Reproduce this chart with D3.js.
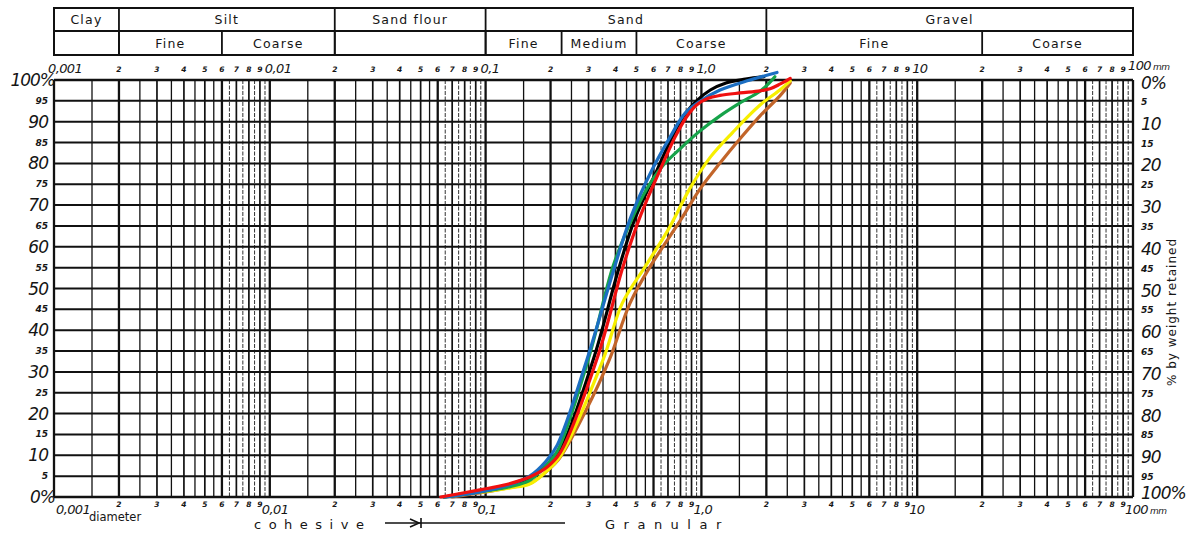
<!DOCTYPE html>
<html>
<head>
<meta charset="utf-8">
<script src="https://cdnjs.cloudflare.com/ajax/libs/d3/7.8.5/d3.min.js"></script>
<style>
body { margin: 0; background: #fff; }
svg { display: block; }
text { font-family: 'DejaVu Sans', sans-serif; fill: #151515; }
</style>
</head>
<body>
<svg id="svg"></svg>
<script>
// soil classes (header table), boundaries in mm
var mainClasses = ['Clay', 'Silt', 'Sand flour', 'Sand', 'Gravel'];
var mainBounds = [0.001, 0.002, 0.02, 0.1, 2, 100];
var subClasses = ['', 'Fine', 'Coarse', '', 'Fine', 'Medium', 'Coarse', 'Fine', 'Coarse'];
var subBounds = [0.001, 0.002, 0.006, 0.02, 0.1, 0.225, 0.5, 2, 20, 100];

// axis labels
var decadeValues = [0.001, 0.01, 0.1, 1, 10, 100];
var decadeTop = ['0,001', '0,01', '0,1', '1,0', '10', '100'];
var decadeBottom = ['0,001', '0,01', '0,1', '1,0', '10', '100'];
var minorDigits = [2, 3, 4, 5, 6, 7, 8, 9];
var gridSteps = [1, 1.5, 2, 2.5, 3, 3.5, 4, 4.5, 5, 5.5, 6, 6.5, 7, 7.5, 8, 8.5, 9, 9.5];
var heavySteps = [1, 2, 6];
var pctLines = [0, 5, 10, 15, 20, 25, 30, 35, 40, 45, 50, 55, 60, 65, 70, 75, 80, 85, 90, 95, 100];
var leftLabels = ['0%', '5', '10', '15', '20', '25', '30', '35', '40', '45', '50', '55', '60', '65', '70', '75', '80', '85', '90', '95', '100%'];
var rightLabels = ['100%', '95', '90', '85', '80', '75', '70', '65', '60', '55', '50', '45', '40', '35', '30', '25', '20', '15', '10', '5', '0%'];

// sieve curves: [diameter mm, % passing]
var brownCurve = [[0.07, 0], [0.1, 1.2], [0.13, 2.3], [0.16, 3.2], [0.19, 6], [0.22, 9.3], [0.29, 20.5], [0.375, 33], [0.467, 46.5], [0.578, 55.2], [0.796, 66.2], [0.986, 73.9], [1.22, 80.1], [1.51, 85.9], [1.87, 91.4], [2.31, 96.2], [2.58, 99.3]];
var yellowCurve = [[0.076, 0.8], [0.1, 1.3], [0.13, 2.2], [0.16, 3.1], [0.19, 6], [0.22, 9.5], [0.35, 32.9], [0.43, 46.5], [0.548, 55.2], [0.7, 64], [0.885, 74], [1.1, 81.5], [1.4, 87.5], [1.87, 94], [2.31, 97.6], [2.58, 99.8]];
var blackCurve = [[0.064, 0], [0.094, 1.3], [0.13, 2.7], [0.16, 4.2], [0.19, 7.5], [0.22, 11], [0.318, 33.5], [0.41, 54], [0.49, 66.5], [0.623, 78.4], [0.731, 86.3], [0.839, 91.8], [0.95, 95], [1.1, 97.6], [1.3, 99.3], [1.6, 100.2], [1.95, 100.8]];
var greenCurve = [[0.065, 0], [0.094, 1.2], [0.13, 2.5], [0.16, 4], [0.19, 7.5], [0.215, 11], [0.301, 33.5], [0.389, 55.2], [0.47, 66], [0.56, 74], [0.664, 79.5], [0.796, 83.5], [0.986, 87.8], [1.22, 91.4], [1.51, 94.5], [1.87, 97.3], [2.08, 99.5], [2.19, 100.8]];
var blueCurve = [[0.065, 0], [0.094, 1.2], [0.13, 3], [0.16, 5], [0.19, 8.5], [0.215, 12.5], [0.295, 33], [0.39, 54], [0.47, 67], [0.59, 78.4], [0.716, 86.3], [0.839, 92], [0.986, 94.9], [1.22, 97.6], [1.63, 99.8], [2.24, 101.8]];
var redCurve = [[0.062, 0], [0.094, 1.7], [0.125, 3], [0.16, 4.8], [0.193, 7.2], [0.221, 10.5], [0.33, 33.5], [0.433, 55.2], [0.519, 67.1], [0.643, 78.4], [0.755, 86.3], [0.85, 91], [0.95, 94], [1.074, 95.6], [1.22, 96.3], [1.51, 96.9], [1.87, 97.4], [2.08, 97.9], [2.31, 99], [2.58, 100.4]];

var curves = [
    { pts: brownCurve, color: '#c2652a' },
    { pts: yellowCurve, color: '#f7ef00' },
    { pts: blackCurve, color: '#000000' },
    { pts: greenCurve, color: '#16a34a' },
    { pts: blueCurve, color: '#1b6ec2' },
    { pts: redCurve, color: '#f01010' }
];

var GrainChart = {

    width: 1187,

    height: 534,

    svg: null,

    x: null,

    y: null,

    init: function() {
        this.svg = d3.select('#svg')
            .attr('width', this.width)
            .attr('height', this.height);
        this.x = d3.scaleLog().domain([0.001, 100]).range([54, 1133]);
        this.y = d3.scaleLinear().domain([0, 100]).range([497, 80]);
        this.buildTable();
        this.buildGrid();
        this.buildLabels();
        this.buildCurves();
        this.buildFooter();
    },

    buildTable: function() {
        var x = this.x, g = this.svg.append('g').attr('class', 'table'),
            top = 8, mid = 31, bot = 55;
        g.append('rect')
            .attr('x', x(0.001)).attr('y', top)
            .attr('width', x(100) - x(0.001)).attr('height', bot - top)
            .attr('fill', 'none').attr('stroke', '#111').attr('stroke-width', 2);
        g.append('line')
            .attr('x1', x(0.001)).attr('x2', x(100)).attr('y1', mid).attr('y2', mid)
            .attr('stroke', '#111').attr('stroke-width', 1.8);
        mainBounds.slice(1, -1).forEach(function(b) {
            g.append('line').attr('x1', x(b)).attr('x2', x(b)).attr('y1', top).attr('y2', bot)
                .attr('stroke', '#111').attr('stroke-width', 1.8);
        });
        subBounds.slice(1, -1).forEach(function(b) {
            g.append('line').attr('x1', x(b)).attr('x2', x(b)).attr('y1', mid).attr('y2', bot)
                .attr('stroke', '#111').attr('stroke-width', 1.8);
        });
        mainClasses.forEach(function(c, i) {
            g.append('text')
                .attr('x', (x(mainBounds[i]) + x(mainBounds[i + 1])) / 2)
                .attr('y', 24)
                .attr('text-anchor', 'middle')
                .attr('font-size', 12.5)
                .attr('letter-spacing', 1.2)
                .text(c);
        });
        subClasses.forEach(function(c, i) {
            if (!c) return;
            g.append('text')
                .attr('x', (x(subBounds[i]) + x(subBounds[i + 1])) / 2)
                .attr('y', 48)
                .attr('text-anchor', 'middle')
                .attr('font-size', 12.5)
                .attr('letter-spacing', 1.2)
                .text(c);
        });
    },

    buildGrid: function() {
        var x = this.x, y = this.y, g = this.svg.append('g').attr('class', 'grid');
        // vertical lines per decade
        for (var k = 0; k < 5; k++) {
            var base = decadeValues[k];
            gridSteps.forEach(function(m) {
                var heavy = heavySteps.indexOf(m) > -1,
                    half = m % 1 !== 0,
                    xx = x(base * m);
                g.append('line')
                    .attr('x1', xx).attr('x2', xx)
                    .attr('y1', y(100)).attr('y2', y(0))
                    .attr('stroke', half && m > 6 ? '#333' : '#111')
                    .attr('stroke-width', heavy ? 2.3 : (half ? (m > 6 ? 1 : 1.3) : 1.7))
                    .attr('stroke-dasharray', half && m > 6 ? '4,1.5' : null);
            });
        }
        g.append('line')
            .attr('x1', x(100)).attr('x2', x(100))
            .attr('y1', y(100)).attr('y2', y(0))
            .attr('stroke', '#111').attr('stroke-width', 2.3);
        pctLines.forEach(function(p) {
            g.append('line')
                .attr('x1', x(0.001)).attr('x2', x(100))
                .attr('y1', y(p)).attr('y2', y(p))
                .attr('stroke', '#111')
                .attr('stroke-width', (p === 0 || p === 100) ? 2.3 : 2);
        });
    },

    buildLabels: function() {
        var x = this.x, y = this.y, svg = this.svg, g = svg.append('g').attr('class', 'labels');
        // percent, left and right
        pctLines.forEach(function(p, i) {
            var small = p % 10 === 5,
                edge = (p === 0 || p === 100);
            g.append('text')
                .attr('x', edge ? 55 : 48)
                .attr('y', y(p) + (small ? 3 : 6))
                .attr('text-anchor', 'end')
                .attr('font-style', 'italic')
                .attr('font-size', small ? 9 : 17)
                .attr('font-weight', small ? 'bold' : 'normal')
                .attr('letter-spacing', small ? 0 : -1)
                .text(leftLabels[i]);
            var ry = y(p) + (small ? 4 : 8);
            if (p === 100) ry = y(p) + 9;
            if (p === 0) ry = y(p) + 2;
            g.append('text')
                .attr('x', 1141)
                .attr('y', ry)
                .attr('font-style', 'italic')
                .attr('font-size', small ? 9 : 17)
                .attr('font-weight', small ? 'bold' : 'normal')
                .attr('letter-spacing', small ? 0 : -1)
                .text(rightLabels[i]);
        });
        g.append('text')
            .attr('transform', 'translate(1176,312) rotate(-90)')
            .attr('text-anchor', 'middle')
            .attr('font-size', 12)
            .attr('letter-spacing', 1)
            .text('% by weight retained');
        // decade labels, top and bottom
        decadeValues.forEach(function(d, i) {
            var last = i === decadeValues.length - 1;
            var t = g.append('text')
                .attr('x', x(d) - (i === 0 ? 6 : 5))
                .attr('y', last ? 70 : 73)
                .attr('font-style', 'italic')
                .attr('font-size', 13)
                .attr('letter-spacing', -0.6)
                .text(decadeTop[i]);
            if (last) t.append('tspan').attr('font-size', 9).attr('dx', 2).text('mm');
            var b = g.append('text')
                .attr('x', x(d) - (i === 0 ? -2 : 8))
                .attr('y', 514)
                .attr('font-style', 'italic')
                .attr('font-size', 13)
                .attr('letter-spacing', -0.6)
                .text(decadeBottom[i]);
            if (last) b.append('tspan').attr('font-size', 9).attr('dx', 2).text('mm');
        });
        g.append('text')
            .attr('x', 89).attr('y', 521)
            .attr('font-size', 11.5)
            .text('diameter');
        // small digits between decades
        for (var k = 0; k < 5; k++) {
            minorDigits.forEach(function(m) {
                [72, 507].forEach(function(yy) {
                    g.append('text')
                        .attr('x', x(decadeValues[k] * m))
                        .attr('y', yy)
                        .attr('text-anchor', 'middle')
                        .attr('font-style', 'italic')
                        .attr('font-weight', 'bold')
                        .attr('font-size', 7.5)
                        .text(m);
                });
            });
        }
    },

    buildCurves: function() {
        var x = this.x, y = this.y,
            g = this.svg.append('g').attr('class', 'curves'),
            line = d3.line()
                .x(function(d) { return x(d[0]); })
                .y(function(d) { return y(d[1]); })
                .curve(d3.curveCatmullRom.alpha(0.5));
        curves.forEach(function(c) {
            g.append('path')
                .attr('d', line(c.pts))
                .attr('fill', 'none')
                .attr('stroke', c.color)
                .attr('stroke-width', 3.2)
                .attr('stroke-linecap', 'round')
                .attr('stroke-linejoin', 'round');
        });
    },

    buildFooter: function() {
        var g = this.svg.append('g').attr('class', 'footer');
        g.append('text')
            .attr('x', 254).attr('y', 529)
            .attr('font-size', 13)
            .attr('letter-spacing', 7.5)
            .text('cohesive');
        g.append('line')
            .attr('x1', 385).attr('x2', 565).attr('y1', 523).attr('y2', 523)
            .attr('stroke', '#111').attr('stroke-width', 1.6);
        g.append('path')
            .attr('d', 'M410,519 L419,523 L410,527 M421,518 L421,528')
            .attr('fill', 'none').attr('stroke', '#111').attr('stroke-width', 1.6);
        g.append('text')
            .attr('x', 605).attr('y', 529)
            .attr('font-size', 13)
            .attr('letter-spacing', 8.5)
            .text('Granular');
    }

};

GrainChart.init();
</script>
</body>
</html>
